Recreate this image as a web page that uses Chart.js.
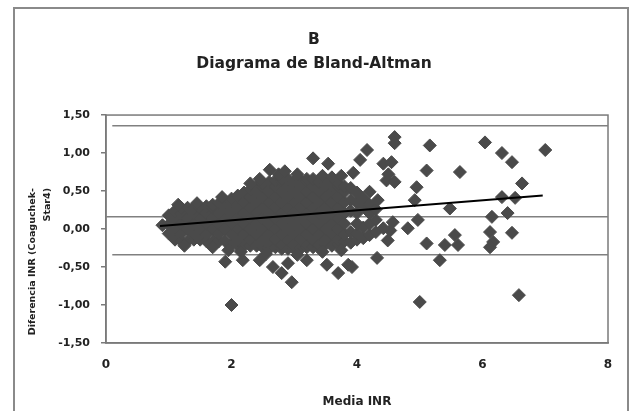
<!DOCTYPE html>
<html>
<head>
<meta charset="utf-8">
<script src="https://cdn.jsdelivr.net/npm/chart.js@4.4.1/dist/chart.umd.min.js"></script>
<style>
  body { margin: 0; background: #fff; }
</style>
</head>
<body>
<canvas id="grafico" width="631" height="411"></canvas>
<script>
// nube principal de puntos (media INR, diferencia INR)
const nube = [
  [0.9,0.05],
  [1.0,-0.06],[1.0,0.06],[1.0,0.18],
  [1.1,-0.14],[1.1,0.0],[1.1,0.12],[1.1,0.24],
  [1.2,-0.16],[1.2,-0.06],[1.2,0.07],[1.2,0.2],[1.2,0.28],
  [1.3,-0.16],[1.3,0.0],[1.3,0.14],[1.3,0.28],
  [1.4,-0.14],[1.4,-0.07],[1.4,0.07],[1.4,0.21],[1.4,0.28],
  [1.5,-0.14],[1.5,0.0],[1.5,0.14],[1.5,0.28],
  [1.6,-0.16],[1.6,-0.07],[1.6,0.07],[1.6,0.21],[1.6,0.3],
  [1.7,-0.16],[1.7,0.0],[1.7,0.14],[1.7,0.28],[1.7,0.32],
  [1.8,-0.16],[1.8,-0.07],[1.8,0.07],[1.8,0.21],[1.8,0.34],
  [1.9,-0.16],[1.9,0.0],[1.9,0.14],[1.9,0.28],[1.9,0.36],
  [2.0,-0.2],[2.0,-0.07],[2.0,0.07],[2.0,0.21],[2.0,0.35],[2.0,0.4],
  [2.1,-0.22],[2.1,-0.14],[2.1,0.0],[2.1,0.14],[2.1,0.28],[2.1,0.42],[2.1,0.44],
  [2.2,-0.22],[2.2,-0.07],[2.2,0.07],[2.2,0.21],[2.2,0.35],[2.2,0.48],
  [2.3,-0.22],[2.3,-0.14],[2.3,0.0],[2.3,0.14],[2.3,0.28],[2.3,0.42],[2.3,0.52],
  [2.4,-0.22],[2.4,-0.07],[2.4,0.07],[2.4,0.21],[2.4,0.35],[2.4,0.49],[2.4,0.56],
  [2.5,-0.24],[2.5,-0.14],[2.5,0.0],[2.5,0.14],[2.5,0.28],[2.5,0.42],[2.5,0.56],[2.5,0.6],
  [2.6,-0.26],[2.6,-0.21],[2.6,-0.07],[2.6,0.07],[2.6,0.21],[2.6,0.35],[2.6,0.49],[2.6,0.62],
  [2.7,-0.24],[2.7,-0.14],[2.7,0.0],[2.7,0.14],[2.7,0.28],[2.7,0.42],[2.7,0.56],[2.7,0.64],
  [2.8,-0.26],[2.8,-0.21],[2.8,-0.07],[2.8,0.07],[2.8,0.21],[2.8,0.35],[2.8,0.49],[2.8,0.63],[2.8,0.66],
  [2.9,-0.26],[2.9,-0.14],[2.9,0.0],[2.9,0.14],[2.9,0.28],[2.9,0.42],[2.9,0.56],[2.9,0.66],
  [3.0,-0.26],[3.0,-0.21],[3.0,-0.07],[3.0,0.07],[3.0,0.21],[3.0,0.35],[3.0,0.49],[3.0,0.63],
  [3.1,-0.26],[3.1,-0.14],[3.1,0.0],[3.1,0.14],[3.1,0.28],[3.1,0.42],[3.1,0.56],[3.1,0.64],
  [3.2,-0.24],[3.2,-0.21],[3.2,-0.07],[3.2,0.07],[3.2,0.21],[3.2,0.35],[3.2,0.49],[3.2,0.63],[3.2,0.66],
  [3.3,-0.24],[3.3,-0.14],[3.3,0.0],[3.3,0.14],[3.3,0.28],[3.3,0.42],[3.3,0.56],[3.3,0.66],
  [3.4,-0.24],[3.4,-0.21],[3.4,-0.07],[3.4,0.07],[3.4,0.21],[3.4,0.35],[3.4,0.49],[3.4,0.62],
  [3.5,-0.2],[3.5,-0.14],[3.5,0.0],[3.5,0.14],[3.5,0.28],[3.5,0.42],[3.5,0.56],[3.5,0.6],
  [3.6,-0.22],[3.6,-0.07],[3.6,0.07],[3.6,0.21],[3.6,0.35],[3.6,0.49],[3.6,0.58],
  [3.7,-0.2],[3.7,-0.14],[3.7,0.0],[3.7,0.14],[3.7,0.28],[3.7,0.42],[3.7,0.56],[3.7,0.6],
  [3.8,-0.16],[3.8,-0.07],[3.8,0.07],[3.8,0.21],[3.8,0.35],[3.8,0.49],[3.8,0.56],
  [3.9,-0.18],[3.9,-0.04],[3.9,0.24],[3.9,0.38],[3.9,0.54],
  [4.0,-0.14],[4.0,-0.07],[4.0,0.07],[4.0,0.21],[4.0,0.35],[4.0,0.48],
  [4.1,-0.12],[4.1,0.02],[4.1,0.3],[4.1,0.4],
  [4.2,-0.08],[4.2,0.07],[4.2,0.21],[4.2,0.32],
  [4.3,-0.04],[4.3,0.12],[4.3,0.26]
];

// puntos del borde de la nube
const borde = [
  [1.15,0.32],[1.45,0.34],[1.85,0.42],[2.3,0.6],[2.45,0.66],[2.75,0.72],[3.05,0.72],[3.45,0.7],[3.6,0.68],[3.75,0.7],
  [1.25,-0.22],[1.7,-0.24],[2.15,-0.3],[1.95,-0.28],[2.55,-0.33],[3.05,-0.34],[3.45,-0.3],[3.75,-0.28]
];

// puntos sueltos
const atipicos = [
  [2.0,-1.0],[1.9,-0.43],[2.18,-0.41],[2.45,-0.41],[2.66,-0.5],[2.8,-0.58],[2.96,-0.7],[2.9,-0.45],
  [3.2,-0.41],[3.52,-0.47],[3.7,-0.58],[3.86,-0.47],[3.92,-0.5],
  [2.61,0.78],[2.85,0.76],[3.3,0.93],[3.54,0.86],[3.94,0.74],[4.05,0.91],[4.16,1.04],[4.2,0.49],[4.33,0.38],
  [4.42,0.86],[4.55,0.88],[4.6,1.21],[4.6,1.13],[4.47,0.64],[4.6,0.62],[4.5,0.72],
  [4.53,-0.02],[4.49,-0.15],[4.32,-0.38],[4.57,0.09],[4.42,0.01],
  [4.95,0.55],[4.92,0.38],[4.97,0.12],[4.81,0.01],[5.11,-0.19],[5.11,0.77],[5.16,1.1],
  [5.0,-0.96],[5.32,-0.41],[5.4,-0.21],[5.48,0.27],[5.56,-0.08],[5.61,-0.21],[5.64,0.75],
  [6.04,1.14],[6.31,1.0],[6.47,0.88],[6.63,0.6],[6.52,0.41],[6.31,0.42],[6.4,0.21],[6.15,0.16],
  [6.12,-0.04],[6.17,-0.17],[6.12,-0.24],[6.47,-0.05],[6.58,-0.87],[7.0,1.04]
];

// recta de tendencia y limites de concordancia
const recta = [[0.86, 0.04], [6.96, 0.44]];
const limiteSup = [[0.1, 1.36], [8, 1.36]];
const mediaDif = [[0, 0.16], [8, 0.16]];
const limiteInf = [[0.1, -0.34], [8, -0.34]];

const ticksX = [0, 2, 4, 6, 8];
const ticksY = [-1.5, -1, -0.5, 0, 0.5, 1, 1.5];

const tituloY = ['Diferencia INR (Coaguchek-', 'Star4)'];

const aPuntos = arr => arr.map(p => ({ x: p[0], y: p[1] }));

const marco = {
  id: 'marco',
  beforeDraw(chart) {
    const ctx = chart.ctx;
    ctx.save();
    ctx.fillStyle = '#fff';
    ctx.fillRect(0, 0, chart.width, chart.height);
    ctx.strokeStyle = '#8a8a8a';
    ctx.lineWidth = 2;
    ctx.strokeRect(14, 8, 614, 420);
    ctx.restore();
  },
  beforeDatasetsDraw(chart) {
    const a = chart.chartArea;
    const ctx = chart.ctx;
    ctx.save();
    ctx.strokeStyle = '#7a7a7a';
    ctx.lineWidth = 1.5;
    ctx.strokeRect(a.left, a.top, a.right - a.left, a.bottom - a.top);
    ctx.restore();
  },
  afterDraw(chart) {
    const ctx = chart.ctx;
    ctx.save();
    ctx.fillStyle = '#222';
    ctx.font = 'bold 9.5px "DejaVu Sans"';
    ctx.textAlign = 'right';
    ctx.textBaseline = 'middle';
    ctx.translate(33, 188);
    ctx.rotate(-Math.PI / 2);
    ctx.fillText(tituloY[0], 0, 0);
    ctx.fillText(tituloY[1], 0, 15);
    ctx.restore();
  }
};

const lineaGris = data => ({
  data: aPuntos(data),
  showLine: true,
  borderColor: '#808080',
  borderWidth: 1.5,
  pointRadius: 0,
  order: 3
});

new Chart(document.getElementById('grafico'), {
  type: 'scatter',
  data: {
    datasets: [
      {
        data: aPuntos(recta),
        showLine: true,
        borderColor: '#000',
        borderWidth: 2,
        pointRadius: 0,
        order: 0
      },
      {
        data: aPuntos(nube.concat(borde, atipicos)),
        pointStyle: 'rectRot',
        pointRadius: 6.5,
        backgroundColor: '#4a4a4a',
        borderColor: '#4a4a4a',
        borderWidth: 1,
        order: 1
      },
      lineaGris(limiteSup),
      lineaGris(mediaDif),
      lineaGris(limiteInf)
    ]
  },
  options: {
    responsive: false,
    animation: false,
    layout: { padding: { left: 20, right: 23, top: 0, bottom: 0 } },
    plugins: {
      legend: { display: false },
      tooltip: { enabled: false },
      title: {
        display: true,
        text: ['B', 'Diagrama de Bland-Altman'],
        color: '#222',
        font: { family: 'DejaVu Sans', size: 15.5, weight: 'bold', lineHeight: 1.55 },
        padding: { top: 28, bottom: 39 }
      }
    },
    scales: {
      x: {
        type: 'linear',
        min: 0,
        max: 8,
        afterBuildTicks: s => { s.ticks = ticksX.map(v => ({ value: v })); },
        afterFit: s => { s.height = 68; },
        grid: { display: false, drawTicks: false },
        border: { display: true, color: '#7a7a7a', width: 1.5 },
        ticks: { color: '#222', font: { family: 'DejaVu Sans', size: 12, weight: 'bold' }, padding: 15 },
        title: {
          display: true,
          text: 'Media INR',
          color: '#222',
          font: { family: 'DejaVu Sans', size: 12, weight: 'bold' },
          padding: { top: 0, bottom: 2 }
        }
      },
      y: {
        min: -1.5,
        max: 1.5,
        afterBuildTicks: s => { s.ticks = ticksY.map(v => ({ value: v })); },
        afterFit: s => { s.width = 86; },
        grid: { display: true, drawOnChartArea: false, drawTicks: true, tickLength: 5, color: '#7a7a7a', lineWidth: 1.5 },
        border: { display: true, color: '#7a7a7a', width: 1.5 },
        ticks: {
          color: '#222',
          font: { family: 'DejaVu Sans', size: 11, weight: 'bold' },
          padding: 11,
          callback: v => v.toFixed(2).replace('.', ',')
        }
      }
    }
  },
  plugins: [marco]
});
</script>
</body>
</html>
